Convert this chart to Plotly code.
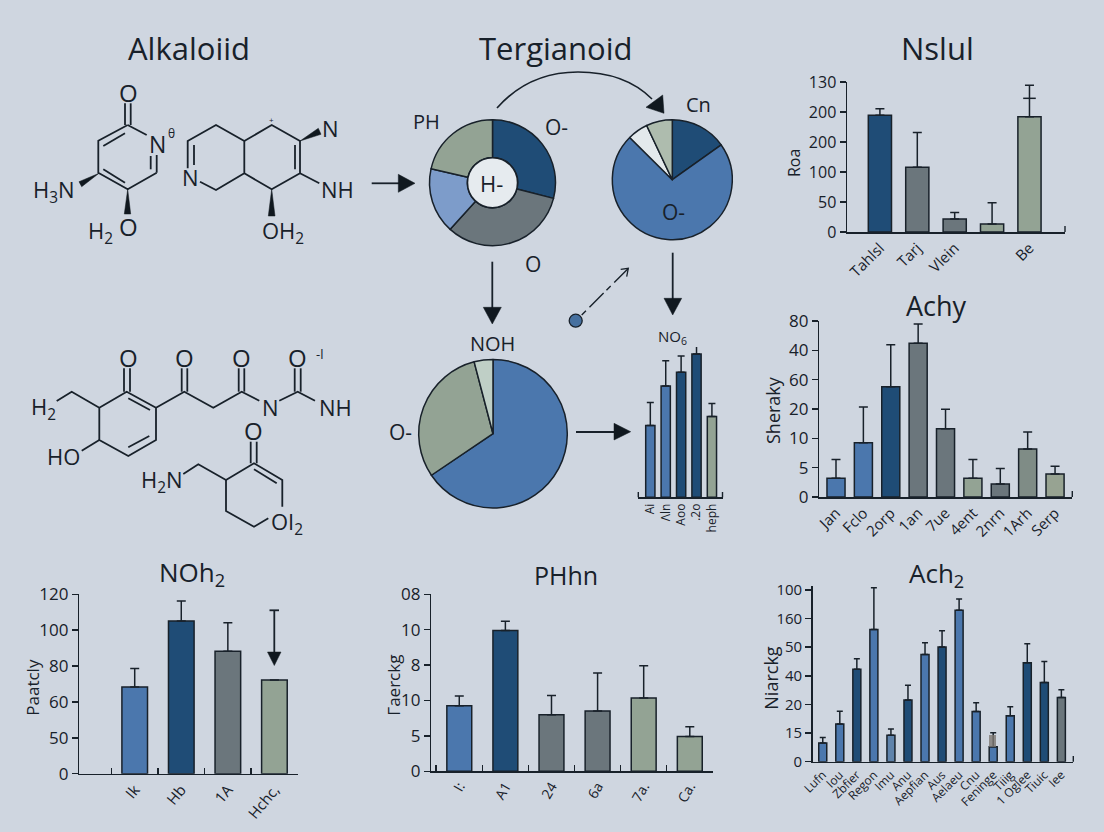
import plotly.graph_objects as go

W, H = 1104, 832
BG = "#cfd6e0"
INK = "#18212a"
BLUE = "#4b77ad"
DARK = "#1f4c76"
GRAY = "#6b767c"
SAGE = "#93a394"
SKY = "#7d9cca"
PALE = "#bfcfc6"
WHITE = "#e3e9ec"
MID = "#5f83ab"
FONT = "Open Sans"

# ---- bar chart data -------------------------------------------------
a_cats = ["Tahlsl", "Tarj", "Vlein", " ", "Be"]
a_vals = [194.5, 107.8, 21.7, 13.3, 192]
a_errs = [11, 58, 11, 35.5, 52.5]
a_cols = [DARK, GRAY, GRAY, SAGE, SAGE]
a_ticks = [0, 50, 100, 150, 200, 250]
a_labels = ["0", "50", "100", "200", "200", "130"]

b_cats = ["Jan", "Fclo", "2orp", "1an", "7ue", "4ent", "2nrn", "1Arh", "Serp"]
b_vals = [6.4, 18.5, 37.6, 52.4, 23.3, 6.4, 4.4, 16.4, 7.8]
b_errs = [6.4, 12.2, 14.3, 6.6, 6.6, 6.4, 5.3, 5.8, 2.7]
b_cols = [BLUE, BLUE, DARK, GRAY, GRAY, SAGE, GRAY, "#7f8c86", "#97a392"]
b_ticks = [0, 10, 20, 30, 40, 50, 60]
b_labels = ["0", "5", "10", "20", "60", "40", "80"]

c_cats = ["Ik", "Hb", "1A", "Hchc,"]
c_vals = [48.3, 85.1, 68.2, 52.2]
c_errs = [10.4, 11.2, 16, 0]
c_cols = [BLUE, DARK, GRAY, SAGE]
c_ticks = [0, 20, 40, 60, 80, 100]
c_labels = ["0", "50", "60", "80", "100", "120"]

d_cats = ["I:", "A1", "24", "6a", "7a.", "Ca."]
d_vals = [9.27, 19.9, 8.0, 8.5, 10.36, 4.9]
d_errs = [1.37, 1.3, 2.7, 5.4, 4.54, 1.4]
d_cols = [BLUE, DARK, GRAY, GRAY, SAGE, SAGE]
d_ticks = [0, 5, 10, 15, 20, 25]
d_labels = ["0", "5", "10", "8", "10", "08"]

e_cats = ["Lufn", "Iou", "Zbfier", "Regon", "Imu", "Anu", "Aepfian", "Aus",
          "Aelaeu", "Cnu", "Feninge", "Tiiig", "1 Oglee", "Tiuic", "Iee"]
e_vals = [6.5, 13.2, 32.3, 46.2, 9.2, 21.6, 37.5, 40.1, 52.9, 17.5, 5.2, 16.1, 34.6, 27.7, 22.4]
e_errs = [2, 4.4, 3.7, 14.6, 2.2, 5.1, 4.1, 5.7, 4, 3.1, 4.9, 3.1, 6.6, 7.3, 2.7]
e_cols = [BLUE, BLUE, DARK, BLUE, MID, DARK, BLUE, DARK, BLUE, BLUE, BLUE, BLUE, DARK, DARK, GRAY]
e_ticks = [0, 10, 20, 30, 40, 50, 60]
e_labels = ["0", "15", "20", "40", "50", "160", "100"]

f_cats = ["Ai", "Λln", "Aoo", ".2o", "heph"]
f_vals = [71.7, 111, 124.7, 143, 80.7]
f_errs = [23, 25.3, 16.3, 13.7, 13]
f_cols = [BLUE, BLUE, DARK, DARK, SAGE]

# ---- pie data -------------------------------------------------------
p1_vals = [104.4, 117.8, 60.5, 77.3]
p1_cols = [DARK, GRAY, SKY, SAGE]
p2_vals = [54.6, 260.2, 19.9, 25.3]
p2_cols = [DARK, BLUE, WHITE, "#aebcae"]
p3_vals = [236, 109.3, 14.7]
p3_cols = [BLUE, SAGE, PALE]

# ---- molecule drawings: (x, y) pairs on a 3x grid of the picture ----
mol1_bonds = [
    [(383, 165), (440, 195)], [(470, 255), (470, 308)], [(452, 258), (452, 298)],
    [(470, 308), (383, 358), (295, 308), (295, 212), (383, 165)],
    [(375, 338), (310, 298)], [(310, 228), (375, 190)],
    [(375, 165), (375, 100)], [(392, 165), (392, 100)],
    [(600, 335), (648, 360), (733, 310), (733, 213), (648, 165), (563, 213), (563, 295)],
    [(582, 225), (582, 285)],
    [(733, 213), (815, 165), (900, 213), (900, 310), (815, 358), (733, 310)],
    [(885, 225), (885, 298)], [(900, 310), (958, 340)],
]
mol1_wedges = [
    [(297, 310), (237, 335), (245, 350)], [(383, 358), (373, 432), (392, 432)],
    [(900, 213), (955, 175), (963, 193)], [(815, 358), (805, 438), (825, 438)],
]
mol1_text = [
    ("O", 384, 67, 24), ("N", 473, 222, 23), ("θ", 514, 190, 12), ("H<sub>3</sub>N", 163, 362, 22),
    ("H<sub>2</sub>", 300, 486, 22), ("O", 384, 468, 24), ("N", 572, 322, 22), ("N", 992, 173, 22),
    ("NH", 1012, 358, 22), ("OH<sub>2</sub>", 848, 485, 22), ("+", 815, 149, 8),
]
mol2_bonds = [
    [(170, 213), (215, 185), (298, 233), (380, 185), (468, 233), (468, 330), (385, 378), (298, 330), (298, 233)],
    [(298, 330), (245, 362)], [(385, 205), (450, 240)], [(385, 352), (448, 318)],
    [(372, 185), (372, 115)], [(390, 185), (390, 115)],
    [(468, 233), (553, 185), (640, 233), (725, 185), (778, 212)],
    [(545, 185), (545, 115)], [(562, 185), (562, 115)],
    [(716, 185), (716, 115)], [(733, 185), (733, 115)],
    [(838, 212), (893, 185), (945, 212)],
    [(884, 185), (884, 115)], [(902, 185), (902, 115)],
    [(550, 432), (595, 403), (678, 450), (762, 400), (847, 450), (847, 530)],
    [(678, 450), (678, 543), (762, 590), (805, 565)],
    [(762, 418), (830, 460)], [(752, 400), (752, 335)], [(770, 400), (770, 335)],
]
mol2_text = [
    ("O", 384, 83, 24), ("O", 553, 83, 24), ("O", 724, 83, 24), ("O", 893, 83, 24), ("-l", 958, 73, 13),
    ("H<sub>2</sub>", 130, 235, 22), ("N", 810, 230, 22), ("NH", 1005, 230, 22), ("HO", 190, 377, 22),
    ("O", 760, 300, 24), ("H<sub>2</sub>N", 485, 454, 22), ("OI<sub>2</sub>", 860, 578, 22),
]


def pxdom(x0, x1, y0, y1):
    return dict(x=[x0 / W, x1 / W], y=[1 - y1 / H, 1 - y0 / H])


fig = go.Figure()
layout = dict(
    width=W, height=H, margin=dict(l=0, r=0, t=0, b=0, pad=0, autoexpand=False), paper_bgcolor=BG,
    plot_bgcolor="rgba(0,0,0,0)",
    showlegend=False, hovermode=False, font=dict(family=FONT, color=INK),
)
shapes, notes = [], []


def bar_chart(n, cats, vals, errs, cols, rect, xrange, yrange, ticks=None, labels=None, width=0.62,
              xsize=15, ysize=16, angle=-45, boundaries=False, capw=4.5, lw=1.5, show_y=True):
    x0, x1, y0, y1 = rect
    d = pxdom(x0, x1, y0, y1)
    fig.add_trace(go.Bar(
        x=cats, y=vals, xaxis=f"x{n}", yaxis=f"y{n}", width=width, cliponaxis=False,
        marker=dict(color=cols, line=dict(color=INK, width=lw)),
        error_y=dict(type="data", array=errs, arrayminus=[0] * len(errs), symmetric=False,
                     color=INK, thickness=1.5, width=capw),
    ))
    layout[f"xaxis{n}"] = dict(
        domain=d["x"], anchor=f"y{n}", type="category", categoryorder="array", categoryarray=cats,
        range=xrange, showline=True, linecolor=INK, linewidth=1.5, showgrid=False, zeroline=False,
        tickangle=angle, tickfont=dict(size=xsize, family=FONT, color=INK), fixedrange=True, dtick=1,
        ticks="inside" if boundaries else "", tickson="boundaries" if boundaries else "labels",
        ticklen=6, tickwidth=1.5, tickcolor=INK,
    )
    layout[f"yaxis{n}"] = dict(
        domain=d["y"], anchor=f"x{n}", range=yrange, showgrid=False, zeroline=False, fixedrange=True,
        showline=show_y, linecolor=INK, linewidth=1.5, visible=show_y,
        tickmode="array", tickvals=ticks, ticktext=labels,
        ticks="outside", ticklen=6, tickwidth=1.5, tickcolor=INK,
        tickfont=dict(size=ysize, family=FONT, color=INK),
    )


bar_chart(2, a_cats, a_vals, a_errs, a_cols, (847, 1065, 82, 232), [-0.88, 4.95], [0, 250], a_ticks, a_labels)
bar_chart(3, b_cats, b_vals, b_errs, b_cols, (819.3, 1072.3, 321, 497), [-0.61, 8.63], [0, 60], b_ticks, b_labels,
          width=0.66, ysize=17)
bar_chart(4, c_cats, c_vals, c_errs, c_cols, (79.3, 297.7, 594.3, 773.7), [-1.19, 3.5], [0, 100], c_ticks, c_labels,
          width=0.55, ysize=17, boundaries=True, angle=-50)
bar_chart(5, d_cats, d_vals, d_errs, d_cols, (431.3, 712.7, 594.3, 771.3), [-0.607, 5.497], [0, 25], d_ticks, d_labels,
          width=0.54, xsize=14, ysize=17, boundaries=True, angle=-60)
bar_chart(6, e_cats, e_vals, e_errs, e_cols, (812.7, 1073.3, 586, 761.7), [-0.59, 14.7], [0, 61.4], e_ticks, e_labels,
          width=0.47, xsize=12, ysize=15, capw=3)
bar_chart(7, f_cats, f_vals, f_errs, f_cols, (638, 722.7, 347, 497.3), [-0.8, 4.7], [0, 150], width=0.6,
          xsize=12, angle=-90, capw=3.5, show_y=False)

# extra mark on the last error whisker of the top-right chart
fig.add_trace(go.Scatter(x=["Be"], y=[222.8], xaxis="x2", yaxis="y2", mode="markers",
                         marker=dict(symbol="line-ew", size=9, line=dict(color=INK, width=1.5))))


def pie(vals, cols, cx, cy, r, hole=0):
    d = pxdom(cx - r, cx + r, cy - r, cy + r)
    fig.add_trace(go.Pie(values=vals, domain=d, sort=False, direction="clockwise", rotation=0, hole=hole,
                         textinfo="none", marker=dict(colors=cols, line=dict(color=INK, width=1.5))))


pie(p1_vals, p1_cols, 492.5, 182.7, 63, hole=0.4)
pie(p2_vals, p2_cols, 672.3, 179.7, 60)
pie(p3_vals, p3_cols, 493, 433.7, 74.3)

# overlay in picture coordinates for the diagram parts
layout["xaxis20"] = dict(domain=[0, 1], range=[0, W], visible=False, fixedrange=True, anchor="y20")
layout["yaxis20"] = dict(domain=[0, 1], range=[H, 0], visible=False, fixedrange=True, anchor="x20")
fig.add_trace(go.Scatter(x=[575.7], y=[320.7], xaxis="x20", yaxis="y20", mode="markers",
                         marker=dict(size=13, color="#46709f", line=dict(color=INK, width=1.3))))


def path(pts, close=False):
    s = "M " + " L ".join(f"{x:.1f} {y:.1f}" for x, y in pts)
    return s + (" Z" if close else "")


def stroke(pts, width=1.8, dash=None):
    line = dict(color=INK, width=width)
    if dash:
        line["dash"] = dash
    shapes.append(dict(type="path", xref="x20", yref="y20", path=path(pts), line=line, layer="above"))


def solid(pts):
    shapes.append(dict(type="path", xref="x20", yref="y20", path=path(pts, True), fillcolor="#10181f",
                       line=dict(color="#10181f", width=0.5), layer="above"))


def label(text, x, y, size, angle=0):
    notes.append(dict(text=text, x=x, y=y, xref="x20", yref="y20", showarrow=False, xanchor="center",
                      yanchor="middle", textangle=angle, font=dict(size=size, family=FONT, color=INK)))


def grid(pts, oy):
    return [(x / 3, oy + y / 3) for x, y in pts]


for b in mol1_bonds:
    stroke(grid(b, 70))
for w_ in mol1_wedges:
    solid(grid(w_, 70))
for t, x, y, s in mol1_text:
    label(t, x / 3, 70 + y / 3, s)
for b in mol2_bonds:
    stroke(grid(b, 330))
for t, x, y, s in mol2_text:
    label(t, x / 3, 330 + y / 3, s)

# arrows
stroke([(371.7, 183.3), (399, 183.3)])
solid([(398.3, 174.3), (398.3, 192.3), (415, 183.3)])
stroke([(492.3, 261.7), (492.3, 308)])
solid([(483.3, 307.3), (501.3, 307.3), (492.3, 324)])
stroke([(672.7, 252.7), (672.7, 299)])
solid([(664, 298.3), (681.7, 298.3), (672.7, 315)])
stroke([(576, 432), (615, 432)])
solid([(614, 423.3), (614, 440), (630.7, 431.7)])
shapes.append(dict(type="path", xref="x20", yref="y20", layer="above", line=dict(color=INK, width=1.6),
                   path="M 497 108 C 520 82, 548 72, 578 72 C 610 72, 635 82, 652 99"))
solid([(664, 113.3), (646, 107.3), (662.7, 95)])
stroke([(581.7, 315), (628, 268.7)], width=1.4, dash="6px,5px,20px,4px")
stroke([(620.7, 269.3), (628.3, 268.3), (626.7, 276.7)], width=1.3)
stroke([(274.3, 610.3), (274.3, 654)])
stroke([(269.5, 610.3), (279, 610.3)])
solid([(267.5, 652), (281, 652), (274.3, 665.5)])

# axis end ticks
stroke([(1065, 232), (1065, 226)], width=1.4)
stroke([(1072.3, 497), (1072.3, 491)], width=1.4)
stroke([(1073.3, 761.7), (1073.3, 756)], width=1.4)
stroke([(638.3, 497.3), (638.3, 492)], width=1.4)
stroke([(722.5, 497.3), (722.5, 492)], width=1.4)

# donut centre and smudge
shapes.append(dict(type="circle", xref="x20", yref="y20", x0=467.5, x1=517.5, y0=157.7, y1=207.7,
                   fillcolor="#e6ebef", line=dict(color=INK, width=1.5), layer="above"))
shapes.append(dict(type="rect", xref="x20", yref="y20", x0=989, x1=996, y0=735, y1=747,
                   fillcolor="rgba(125,120,115,0.8)", line=dict(width=0), layer="above"))

# titles
label("Alkaloiid", 189, 48, 31)
label("Tergianoid", 556, 48, 31)
label("Nslul", 937, 48, 31)
label("Achy", 936, 305, 27)
label("NOh<sub>2</sub>", 192, 573, 26)
label("PHhn", 566, 575, 25)
label("Ach<sub>2</sub>", 936, 574, 26)

# pie labels
label("PH", 426.7, 121, 20)
label("O-", 556.7, 126.7, 21)
label("H-", 491.7, 182.7, 22)
label("Cn", 698.3, 104.3, 20)
label("O-", 673.3, 211.7, 21)
label("O", 532.7, 264.3, 21)
label("NOH", 492.3, 343.3, 20)
label("O-", 400.7, 431.7, 21)
label("NO<sub>6</sub>", 672, 337, 15)

# axis names
label("Roa", 794, 163, 16, -90)
label("Sheraky", 773, 410, 18, -90)
label("Paatcly", 31.7, 687, 17, -90)
label("Гaerckg", 392.7, 685, 17, -90)
label("Niarckg", 770.7, 678, 18, -90)

layout["shapes"] = shapes
layout["annotations"] = notes
fig.update_layout(**layout)
fig.write_html("out.html", config={"displayModeBar": False, "staticPlot": True},
               post_script="document.body.style.margin='0';document.body.style.overflow='hidden';")
